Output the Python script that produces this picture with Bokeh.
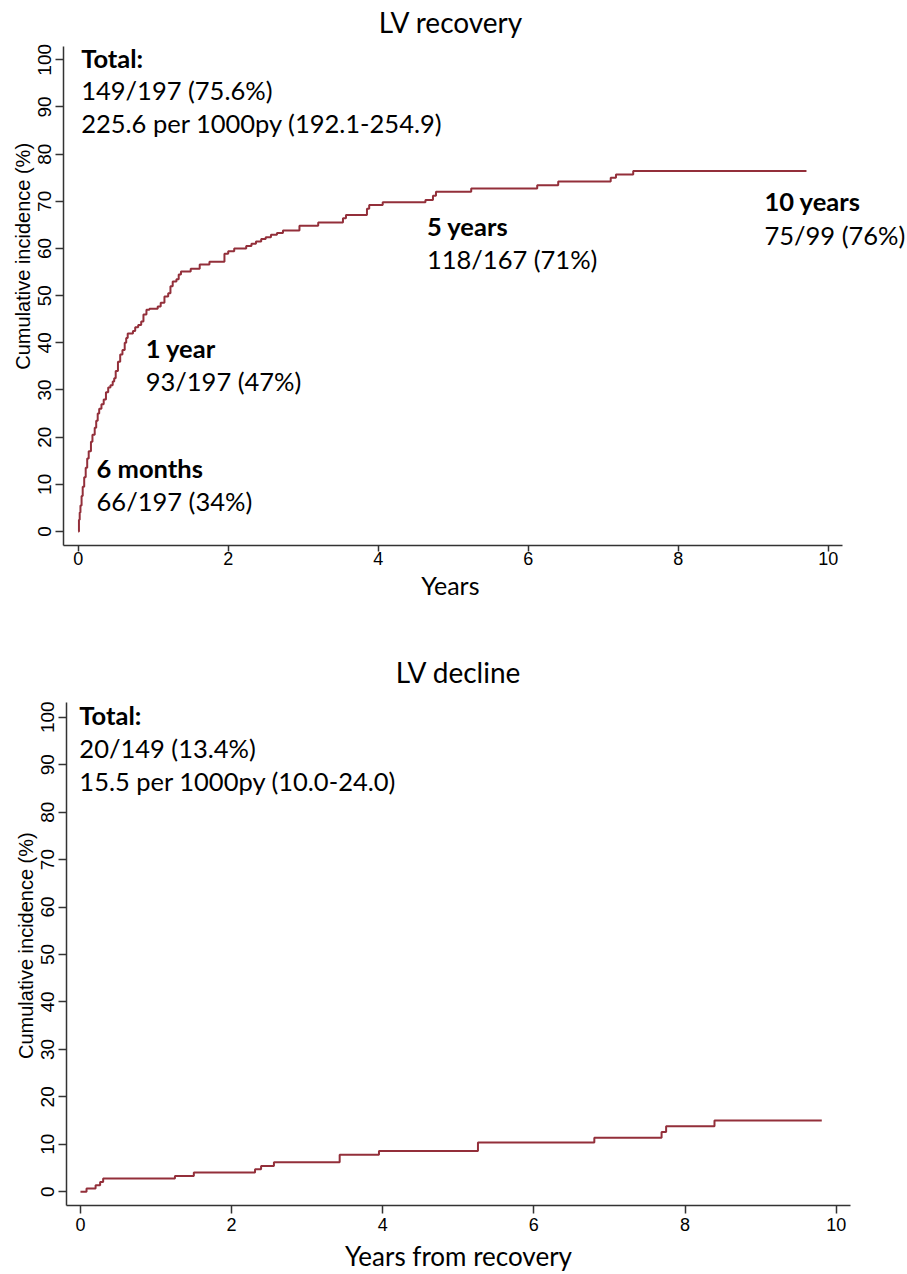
from bokeh.plotting import figure
from bokeh.models import Range1d, FixedTicker, Label
from bokeh.embed import file_html
from bokeh.resources import INLINE

# ---- data: LV recovery (cumulative incidence, %) ----
rec_years = [0, 0.01, 0.02, 0.03, 0.045, 0.06, 0.08, 0.10, 0.12, 0.14, 0.17, 0.19,
             0.22, 0.24, 0.26, 0.28, 0.31, 0.34, 0.37, 0.40, 0.43, 0.46, 0.48, 0.50,
             0.53, 0.56, 0.59, 0.62, 0.64, 0.66, 0.73, 0.76, 0.80, 0.84, 0.87, 0.91,
             0.95, 1.06, 1.10, 1.15, 1.20, 1.23, 1.26, 1.31, 1.34, 1.37, 1.50, 1.62,
             1.75, 1.95, 2.00, 2.08, 2.24, 2.31, 2.37, 2.44, 2.50, 2.57, 2.65, 2.73,
             2.95, 3.20, 3.53, 3.57, 3.85, 3.88, 4.06, 4.63, 4.73, 4.77, 5.24, 6.12,
             6.40, 7.10, 7.17, 7.40, 9.71]
rec_cuminc = [0, 2.5, 4.0, 5.5, 7.5, 9.5, 11.5, 13.5, 15.5, 17.0, 19.0, 20.5,
              22.0, 23.5, 25.0, 26.0, 27.0, 28.0, 29.5, 30.5, 31.0, 31.8, 32.5, 34.0,
              36.0, 37.5, 38.5, 40.0, 41.0, 42.0, 42.5, 43.3, 43.8, 44.5, 46.0, 47.0,
              47.2, 47.7, 48.5, 49.8, 50.5, 52.0, 53.0, 53.5, 54.5, 55.1, 55.7, 56.6,
              57.2, 58.9, 59.4, 60.0, 60.5, 61.0, 61.5, 62.0, 62.4, 62.9, 63.3, 63.8,
              64.8, 65.5, 66.4, 67.1, 68.4, 69.2, 69.8, 70.3, 71.2, 72.0, 72.7, 73.4,
              74.2, 75.0, 75.7, 76.4, 76.4]

# ---- data: LV decline ----
dec_years = [0, 0.08, 0.20, 0.26, 0.30, 1.25, 1.50, 2.31, 2.39, 2.56, 3.43, 3.95,
             5.26, 6.80, 7.69, 7.75, 8.39, 9.81]
dec_cuminc = [0, 0.67, 1.37, 2.06, 2.77, 3.33, 4.04, 4.74, 5.43, 6.2, 7.8, 8.6,
              10.36, 11.4, 12.6, 13.8, 15.0, 15.0]

x_ticks = [0, 2, 4, 6, 8, 10]
y_ticks = [0, 10, 20, 30, 40, 50, 60, 70, 80, 90, 100]

LINE = "#932F3A"
TXT = "Lato"
TICKF = "Liberation Sans"
NB = "\u00a0"
YLAB = "Cumulative incidence (%)"


def make_fig(xlabel, ylabel, height, b_left, b_right, b_top, b_bottom, xr, yr,
             xbounds, ybounds, xlab_size, xlab_standoff, xtick_out, xtick_standoff):
    p = figure(width=907, height=height, output_backend="svg", toolbar_location=None,
               x_range=Range1d(*xr), y_range=Range1d(*yr),
               min_border_left=b_left, min_border_right=b_right,
               min_border_top=b_top, min_border_bottom=b_bottom)
    p.outline_line_color = None
    p.grid.visible = False
    p.background_fill_color = "white"
    p.border_fill_color = "white"

    for ax in (p.xaxis[0], p.yaxis[0]):
        ax.axis_line_color = "#333333"
        ax.axis_line_width = 1.5
        ax.major_tick_line_color = "#333333"
        ax.major_tick_line_width = 1.5
        ax.major_tick_out = 8
        ax.major_tick_in = 0
        ax.minor_tick_out = 0
        ax.minor_tick_in = 0
        ax.major_label_text_color = "black"
        ax.major_label_text_font = TICKF
        ax.axis_label_text_color = "black"
        ax.axis_label_text_font_style = "normal"

    p.xaxis.ticker = FixedTicker(ticks=x_ticks)
    p.xaxis.bounds = xbounds
    p.xaxis.major_tick_out = xtick_out
    p.xaxis.major_label_text_font_size = "18px"
    p.xaxis.major_label_standoff = xtick_standoff
    p.xaxis.axis_label = xlabel
    p.xaxis.axis_label_text_font = TXT
    p.xaxis.axis_label_text_font_size = xlab_size
    p.xaxis.axis_label_standoff = xlab_standoff

    p.yaxis.ticker = FixedTicker(ticks=y_ticks)
    p.yaxis.bounds = ybounds
    p.yaxis.major_label_text_font_size = "19px"
    p.yaxis.major_label_orientation = "vertical"
    p.yaxis.major_label_standoff = 4
    p.yaxis.axis_label = ylabel
    p.yaxis.axis_label_text_font = TICKF
    p.yaxis.axis_label_text_font_size = "20px"
    p.yaxis.axis_label_standoff = 2
    return p


def add_text(p, x, y, text, bold=False, size="25.5px", align="left"):
    p.add_layout(Label(x=x, y=y, text=text, text_font=TXT, text_font_size=size,
                       text_font_style="bold" if bold else "normal",
                       text_color="black", text_baseline="alphabetic",
                       text_align=align))


# ---- top: LV recovery ----
# the frame fills the canvas to the top and right so that the title and the
# right-hand notes can sit inside it; axis lines are limited with bounds
p1 = make_fig("Years" + NB * 11, NB * 6 + YLAB,
              610, 63, 0, 0, 65,
              (-0.196, 11.057), (-2.97, 112.57), (-0.196, 10.19), (-2.97, 102.8),
              "25px", 2, 6, 0)
p1.title = None
p1.step(rec_years, rec_cuminc, mode="after", line_color=LINE, line_width=2)
add_text(p1, 4.97, 108.1, "LV recovery", size="28px", align="center")
add_text(p1, 0.04, 100.4, "Total:", bold=True)
add_text(p1, 0.04, 93.5, "149/197 (75.6%)")
add_text(p1, 0.04, 86.5, "225.6 per 1000py (192.1-254.9)")
add_text(p1, 0.245, 13.5, "6 months", bold=True)
add_text(p1, 0.245, 6.5, "66/197 (34%)")
add_text(p1, 0.90, 38.9, "1 year", bold=True)
add_text(p1, 0.90, 32.0, "93/197 (47%)")
add_text(p1, 4.65, 64.8, "5 years", bold=True)
add_text(p1, 4.65, 57.8, "118/167 (71%)")
add_text(p1, 9.15, 70.0, "10 years", bold=True)
add_text(p1, 9.15, 62.9, "75/99 (76%)")

# ---- bottom: LV decline ----
p2 = make_fig("Years from recovery", NB * 3 + YLAB,
              664, 66, 57, 92, 69,
              (-0.185, 10.19), (-2.9, 103.1), (-0.185, 10.19), (-2.9, 103.1),
              "26px", 6, 8, 4)
p2.title.text = "LV decline"
p2.title.align = "center"
p2.title.text_font = TXT
p2.title.text_font_size = "28px"
p2.title.text_font_style = "normal"
p2.title.text_color = "black"
p2.title.standoff = 27
p2.step(dec_years, dec_cuminc, mode="after", line_color=LINE, line_width=2)
add_text(p2, -0.015, 100.5, "Total:", bold=True)
add_text(p2, -0.015, 93.5, "20/149 (13.4%)")
add_text(p2, -0.015, 86.5, "15.5 per 1000py (10.0-24.0)")

open("out.html", "w").write(file_html([p1, p2], INLINE))
